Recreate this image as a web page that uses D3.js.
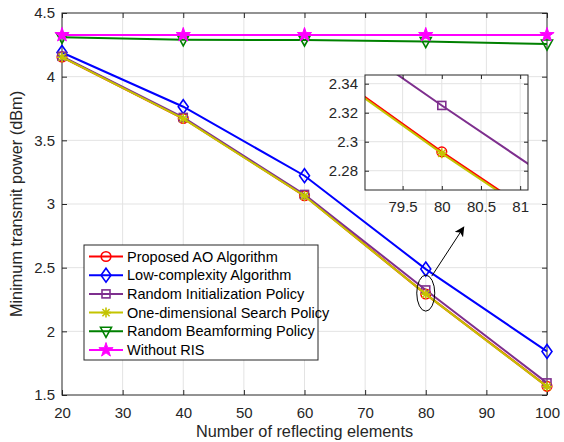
<!DOCTYPE html>
<html>
<head>
<meta charset="utf-8">
<script src="https://cdn.jsdelivr.net/npm/d3@7"></script>
<style>
  body { margin: 0; background: #fff; }
  svg { font-family: "Liberation Sans", Arial, sans-serif; }
</style>
</head>
<body>
<div id="chart"></div>
<script>
// data
var elements = [20, 40, 60, 80, 100];
var proposedAO = [4.155, 3.672, 3.065, 2.293, 1.568];
var lowComplexity = [4.19, 3.764, 3.222, 2.489, 1.842];
var randomInit = [4.16, 3.68, 3.075, 2.325, 1.595];
var oneDimSearch = [4.153, 3.670, 3.063, 2.292, 1.566];
var randomBF = [4.309, 4.289, 4.288, 4.276, 4.256];
var withoutRIS = [4.328, 4.328, 4.328, 4.328, 4.328];

var seriesNames = ["Proposed AO Algorithm", "Low-complexity Algorithm", "Random Initialization Policy",
                   "One-dimensional Search Policy", "Random Beamforming Policy", "Without RIS"];
var xTicks = [20, 30, 40, 50, 60, 70, 80, 90, 100];
var yTicks = [1.5, 2, 2.5, 3, 3.5, 4, 4.5];
var insetXTicks = [79.5, 80, 80.5, 81];
var insetYTicks = [2.28, 2.3, 2.32, 2.34];

var series = [
  {name: seriesNames[0], values: proposedAO, color: "#ff0000", marker: "circle", width: 2.2},
  {name: seriesNames[1], values: lowComplexity, color: "#0000ff", marker: "diamond", width: 2},
  {name: seriesNames[2], values: randomInit, color: "#7e2f8e", marker: "square", width: 2},
  {name: seriesNames[3], values: oneDimSearch, color: "#c4c400", marker: "asterisk", width: 2},
  {name: seriesNames[4], values: randomBF, color: "#008000", marker: "triangle", width: 2},
  {name: seriesNames[5], values: withoutRIS, color: "#ff00ff", marker: "star", width: 2}
];

var svgWidth = 564;
var svgHeight = 442;
var margin = {top: 13, right: 17, bottom: 47, left: 62};
var width = svgWidth - margin.left - margin.right;
var height = svgHeight - margin.top - margin.bottom;

var axisColor = "#262626";
var gridColor = "#e3e3e3";

var svg = d3.select("#chart").append("svg")
  .attr("width", svgWidth)
  .attr("height", svgHeight);

var g = svg.append("g").attr("transform", `translate(${margin.left},${margin.top})`);

var x = d3.scaleLinear().domain([20, 100]).range([0, width]);
var y = d3.scaleLinear().domain([1.5, 4.5]).range([height, 0]);

function starPath(R) {
  var r = R * 0.382, pts = [];
  for (var i = 0; i < 10; i++) {
    var a = -Math.PI / 2 + i * Math.PI / 5;
    var rad = i % 2 === 0 ? R : r;
    pts.push([rad * Math.cos(a), rad * Math.sin(a)]);
  }
  return "M" + pts.map(p => p.join(",")).join("L") + "Z";
}

function drawMarker(sel, type, color) {
  if (type === "circle") {
    sel.append("circle").attr("r", 4.8).attr("fill", "none").attr("stroke", color).attr("stroke-width", 1.6);
  } else if (type === "diamond") {
    sel.append("path").attr("d", "M0,-7L5,0L0,7L-5,0Z").attr("fill", "none").attr("stroke", color).attr("stroke-width", 1.6);
  } else if (type === "square") {
    sel.append("rect").attr("x", -4).attr("y", -4).attr("width", 8).attr("height", 8)
      .attr("fill", "none").attr("stroke", color).attr("stroke-width", 1.6);
  } else if (type === "asterisk") {
    sel.append("path").attr("d", "M-5,0L5,0M0,-5L0,5M-3.6,-3.6L3.6,3.6M-3.6,3.6L3.6,-3.6")
      .attr("stroke", color).attr("stroke-width", 1.6);
  } else if (type === "triangle") {
    sel.append("path").attr("d", "M-5.5,-4L5.5,-4L0,6Z").attr("fill", "none").attr("stroke", color).attr("stroke-width", 1.6);
  } else if (type === "star") {
    sel.append("path").attr("d", starPath(7.5)).attr("fill", color).attr("stroke", color).attr("stroke-width", 1);
  }
}

// grid
g.append("g").selectAll("line").data(xTicks.slice(1, -1)).enter().append("line")
  .attr("x1", d => x(d)).attr("x2", d => x(d)).attr("y1", 0).attr("y2", height)
  .attr("stroke", gridColor).attr("stroke-width", 1);
g.append("g").selectAll("line").data(yTicks.slice(1, -1)).enter().append("line")
  .attr("y1", d => y(d)).attr("y2", d => y(d)).attr("x1", 0).attr("x2", width)
  .attr("stroke", gridColor).attr("stroke-width", 1);

// axes
function styleAxis(ax) {
  ax.select(".domain").remove();
  ax.selectAll("line").attr("stroke", axisColor);
  ax.selectAll("text").attr("fill", axisColor).style("font-size", "15px");
}

g.append("g").attr("transform", `translate(0,${height})`)
  .call(d3.axisBottom(x).tickValues(xTicks).tickSize(-5).tickPadding(12).tickFormat(d3.format("d")))
  .call(styleAxis);
g.append("g")
  .call(d3.axisTop(x).tickValues(xTicks).tickSize(-5).tickFormat(""))
  .call(styleAxis);
g.append("g")
  .call(d3.axisLeft(y).tickValues(yTicks).tickSize(-5).tickPadding(7).tickFormat(d3.format("")))
  .call(styleAxis);
g.append("g").attr("transform", `translate(${width},0)`)
  .call(d3.axisRight(y).tickValues(yTicks).tickSize(-5).tickFormat(""))
  .call(styleAxis);

g.append("rect").attr("width", width).attr("height", height)
  .attr("fill", "none").attr("stroke", axisColor).attr("stroke-width", 1);

// series
var line = d3.line().x(d => x(d[0])).y(d => y(d[1]));

series.forEach(function(s) {
  var pts = elements.map((e, i) => [e, s.values[i]]);
  g.append("path").datum(pts).attr("d", line)
    .attr("fill", "none").attr("stroke", s.color).attr("stroke-width", s.width);
  pts.forEach(function(p) {
    var m = g.append("g").attr("transform", `translate(${x(p[0])},${y(p[1])})`);
    drawMarker(m, s.marker, s.color);
  });
});

// axis titles
g.append("text")
  .attr("x", width / 2).attr("y", height + 42)
  .attr("text-anchor", "middle").attr("fill", axisColor).style("font-size", "16.3px")
  .text("Number of reflecting elements");
g.append("text")
  .attr("transform", "rotate(-90)")
  .attr("x", -height / 2).attr("y", -40)
  .attr("text-anchor", "middle").attr("fill", axisColor).style("font-size", "16.3px")
  .text("Minimum transmit power (dBm)");

// ellipse and arrow
g.append("ellipse")
  .attr("cx", x(80)).attr("cy", y(2.3)).attr("rx", 9).attr("ry", 18)
  .attr("fill", "none").attr("stroke", "#000").attr("stroke-width", 1);

svg.append("defs").append("marker")
  .attr("id", "arrowhead").attr("viewBox", "0 0 10 10")
  .attr("refX", 9).attr("refY", 5).attr("markerWidth", 10).attr("markerHeight", 10)
  .attr("markerUnits", "userSpaceOnUse").attr("orient", "auto")
  .append("path").attr("d", "M0,0L10,5L0,10L2.5,5Z").attr("fill", "#000");

g.append("line")
  .attr("x1", x(80) + 6).attr("y1", y(2.3) - 17)
  .attr("x2", x(80) + 38).attr("y2", y(2.3) - 66)
  .attr("stroke", "#000").attr("stroke-width", 1)
  .attr("marker-end", "url(#arrowhead)");

// legend
var legend = g.append("g").attr("transform", `translate(${84 - margin.left},${245 - margin.top})`);
legend.append("rect").attr("width", 234).attr("height", 115)
  .attr("fill", "#fff").attr("stroke", axisColor).attr("stroke-width", 1);
series.forEach(function(s, i) {
  var row = legend.append("g").attr("transform", `translate(0,${11.5 + i * 18.7})`);
  row.append("line").attr("x1", 5).attr("x2", 39).attr("y1", 0).attr("y2", 0)
    .attr("stroke", s.color).attr("stroke-width", 2);
  var m = row.append("g").attr("transform", "translate(22,0)");
  drawMarker(m, s.marker, s.color);
  row.append("text").attr("x", 43).attr("y", 0).attr("dy", "0.35em")
    .attr("fill", "#000").style("font-size", "14.5px").text(s.name);
});

// inset
var inset = {left: 365, top: 75, width: 163, height: 115};
var ig = svg.append("g").attr("transform", `translate(${inset.left},${inset.top})`);
var ix = d3.scaleLinear().domain([79.02, 81.1]).range([0, inset.width]);
var iy = d3.scaleLinear().domain([2.2667, 2.346]).range([inset.height, 0]);

ig.append("rect").attr("width", inset.width).attr("height", inset.height).attr("fill", "#fff");
ig.append("g").selectAll("line").data(insetXTicks).enter().append("line")
  .attr("x1", d => ix(d)).attr("x2", d => ix(d)).attr("y1", 0).attr("y2", inset.height)
  .attr("stroke", gridColor);
ig.append("g").selectAll("line").data(insetYTicks).enter().append("line")
  .attr("y1", d => iy(d)).attr("y2", d => iy(d)).attr("x1", 0).attr("x2", inset.width)
  .attr("stroke", gridColor);

ig.append("clipPath").attr("id", "insetClip")
  .append("rect").attr("width", inset.width).attr("height", inset.height);

var iline = d3.line().x(d => ix(d[0])).y(d => iy(d[1]));
var plot = ig.append("g").attr("clip-path", "url(#insetClip)");
series.forEach(function(s) {
  var pts = elements.map((e, i) => [e, s.values[i]]);
  plot.append("path").datum(pts).attr("d", iline)
    .attr("fill", "none").attr("stroke", s.color).attr("stroke-width", s.width);
  pts.forEach(function(p) {
    var m = plot.append("g").attr("transform", `translate(${ix(p[0])},${iy(p[1])})`);
    drawMarker(m, s.marker, s.color);
  });
});

ig.append("g").attr("transform", `translate(0,${inset.height})`)
  .call(d3.axisBottom(ix).tickValues(insetXTicks).tickSize(-4).tickPadding(11).tickFormat(d3.format("")))
  .call(styleAxis);
ig.append("g")
  .call(d3.axisTop(ix).tickValues(insetXTicks).tickSize(-4).tickFormat(""))
  .call(styleAxis);
ig.append("g")
  .call(d3.axisLeft(iy).tickValues(insetYTicks).tickSize(-4).tickPadding(7).tickFormat(d3.format("")))
  .call(styleAxis);
ig.append("g").attr("transform", `translate(${inset.width},0)`)
  .call(d3.axisRight(iy).tickValues(insetYTicks).tickSize(-4).tickFormat(""))
  .call(styleAxis);
ig.append("rect").attr("width", inset.width).attr("height", inset.height)
  .attr("fill", "none").attr("stroke", axisColor).attr("stroke-width", 1);
</script>
</body>
</html>
